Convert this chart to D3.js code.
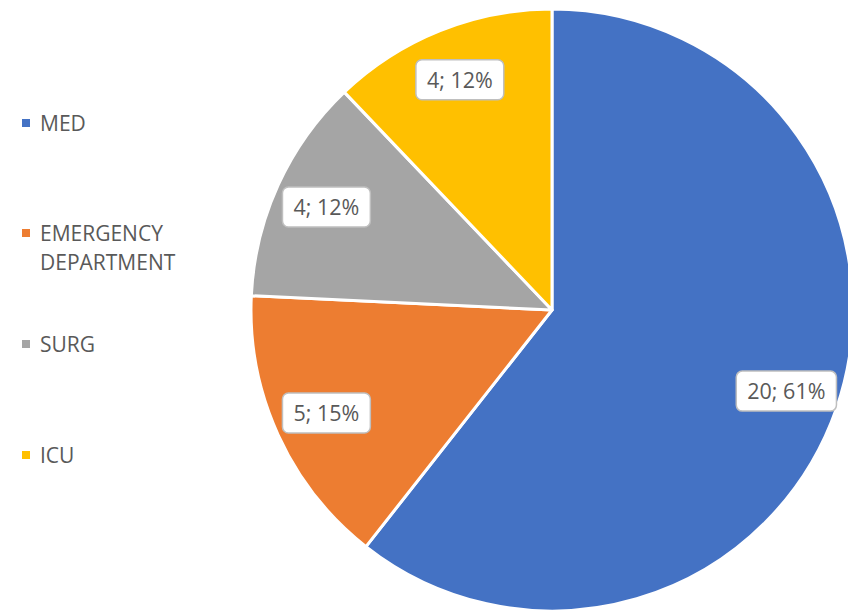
<!DOCTYPE html>
<html>
<head>
<meta charset="utf-8">
<script src="https://cdn.jsdelivr.net/npm/d3@7"></script>
<style>
  body { margin: 0; background: #fff; }
  svg { display: block; }
  text { font-family: "Open Sans", Lato, sans-serif; fill: #595959; }
</style>
</head>
<body>
<div id="chart"></div>
<script>
var categories = ['MED', 'EMERGENCY DEPARTMENT', 'SURG', 'ICU'];
var legendLines = [['MED'], ['EMERGENCY', 'DEPARTMENT'], ['SURG'], ['ICU']];
var values = [20, 5, 4, 4];
var colors = ['#4472C4', '#ED7D31', '#A5A5A5', '#FFC000'];

var width = 848,
	height = 611;

var cx = 552,
	cy = 310,
	radius = 301,
	labelRadius = 248;

var total = d3.sum(values);

var svg = d3.select('#chart').append('svg')
	.attr('width', width)
	.attr('height', height);

var pie = d3.pie().sort(null).value(function(d) { return d; });
var arcs = pie(values);

var arc = d3.arc().innerRadius(0).outerRadius(radius);

var g = svg.append('g')
	.attr('transform', 'translate(' + cx + ',' + cy + ')');

// slices
g.selectAll('path.slice').data(arcs).enter()
	.append('path')
		.attr('class', 'slice')
		.attr('d', arc)
		.attr('fill', function(d, i) { return colors[i]; })
		.attr('stroke', '#fff')
		.attr('stroke-width', 3)
		.attr('stroke-linejoin', 'round');

// data labels
var labels = g.selectAll('g.label').data(arcs).enter()
	.append('g')
		.attr('class', 'label')
		.attr('transform', function(d) {
			var a = (d.startAngle + d.endAngle) / 2;
			return 'translate(' + (labelRadius * Math.sin(a)) + ',' + (-labelRadius * Math.cos(a)) + ')';
		});

labels.append('text')
	.attr('text-anchor', 'middle')
	.attr('dy', '0.36em')
	.style('font-size', '21.5px')
	.text(function(d) {
		return d.value + '; ' + Math.round(d.value / total * 100) + '%';
	});

labels.each(function() {
	var sel = d3.select(this);
	var bb = sel.select('text').node().getBBox();
	var padX = 11;
	sel.insert('rect', 'text')
		.attr('x', bb.x - padX)
		.attr('y', -20)
		.attr('width', bb.width + padX * 2)
		.attr('height', 40)
		.attr('rx', 6)
		.attr('fill', '#fff')
		.attr('stroke', '#BFBFBF')
		.attr('stroke-width', 1.5);
});

// legend
var legendY = [123, 233, 344, 455];

var legend = svg.selectAll('g.legend').data(categories).enter()
	.append('g')
		.attr('class', 'legend')
		.attr('transform', function(d, i) { return 'translate(22,' + legendY[i] + ')'; });

legend.append('rect')
	.attr('x', 0)
	.attr('y', -4)
	.attr('width', 8)
	.attr('height', 8)
	.attr('fill', function(d, i) { return colors[i]; });

legend.append('text')
	.style('font-size', '21px')
	.selectAll('tspan')
	.data(function(d, i) { return legendLines[i]; })
	.enter()
	.append('tspan')
		.attr('x', 18)
		.attr('dy', function(d, i) { return i === 0 ? '0.36em' : '29px'; })
		.text(function(d) { return d; });
</script>
</body>
</html>
